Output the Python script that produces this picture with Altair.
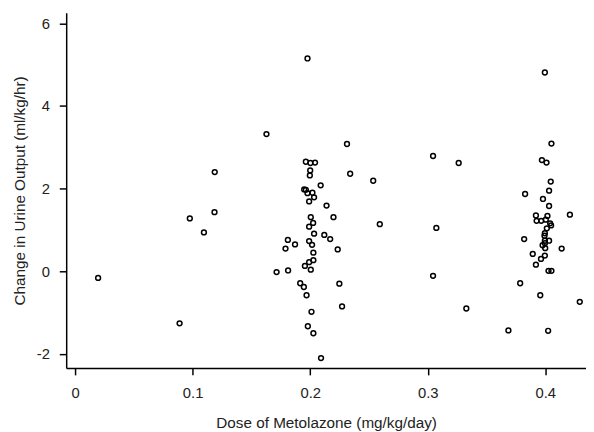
import altair as alt
import pandas as pd

dose = [
    0.0196, 0.0889, 0.0976, 0.1096, 0.1186, 0.1188, 0.1628, 0.1714, 0.1812, 0.179, 0.181, 0.1871,
    0.1977, 0.2313, 0.1963, 0.2002, 0.2041, 0.2, 0.1997, 0.234, 0.2536, 0.2089, 0.1949, 0.1963,
    0.1977, 0.2019, 0.2033, 0.1991, 0.2139, 0.2005, 0.2198, 0.2025, 0.1991, 0.2592, 0.2033, 0.212,
    0.217, 0.1991, 0.2016, 0.2234, 0.2027, 0.2027, 0.1991, 0.1955, 0.2005, 0.1915, 0.1946, 0.1969,
    0.2248, 0.2271, 0.2011, 0.198, 0.2027, 0.2092,
    0.3045, 0.3263, 0.3073, 0.3045, 0.3328,
    0.3996, 0.4052, 0.3971, 0.401, 0.4046, 0.3828, 0.4032, 0.398, 0.4032, 0.4209, 0.392, 0.4018,
    0.3926, 0.3965, 0.4004, 0.4041, 0.4049, 0.4013, 0.3996, 0.3993, 0.4032, 0.3996, 0.382, 0.3996,
    0.3977, 0.3999, 0.4139, 0.3893, 0.3996, 0.3963, 0.392, 0.4027, 0.4052, 0.3786, 0.3957, 0.4293,
    0.3686, 0.4024,
]
change = [
    -0.16, -1.26, 1.28, 0.94, 1.43, 2.40, 3.32, -0.02, 0.02, 0.55, 0.76, 0.65,
    5.15, 3.08, 2.65, 2.62, 2.63, 2.44, 2.32, 2.36, 2.19, 2.08, 1.98, 1.97,
    1.89, 1.90, 1.79, 1.69, 1.59, 1.31, 1.31, 1.17, 1.08, 1.14, 0.91, 0.88,
    0.78, 0.73, 0.64, 0.53, 0.45, 0.27, 0.22, 0.13, 0.04, -0.29, -0.38, -0.58,
    -0.30, -0.85, -0.98, -1.33, -1.50, -2.10,
    2.79, 2.62, 1.05, -0.11, -0.90,
    4.81, 3.09, 2.69, 2.63, 2.17, 1.87, 1.95, 1.75, 1.58, 1.37, 1.35, 1.34,
    1.22, 1.22, 1.25, 1.16, 1.11, 1.04, 0.92, 0.86, 0.74, 0.74, 0.78, 0.68,
    0.63, 0.56, 0.55, 0.42, 0.38, 0.30, 0.16, 0.01, 0.01, -0.29, -0.58, -0.74,
    -1.43, -1.44,
]
x_ticks = [0, 0.1, 0.2, 0.3, 0.4]
y_ticks = [-2, 0, 2, 4, 6]

df = pd.DataFrame({"dose": dose, "change": change})

FONT = "Liberation Sans"

chart = alt.Chart(df).mark_point(
    shape="circle", filled=False, color="black", size=24, strokeWidth=1.5, opacity=1
).encode(
    x=alt.X("dose:Q",
            scale=alt.Scale(domain=[-0.00755, 0.4346], nice=False, zero=False),
            axis=alt.Axis(values=x_ticks, format=".1~f", title="Dose of Metolazone (mg/kg/day)",
                          grid=False, tickSize=7, labelPadding=11, titlePadding=15)),
    y=alt.Y("change:Q",
            scale=alt.Scale(domain=[-2.339, 6.253], nice=False, zero=False),
            axis=alt.Axis(values=y_ticks, labelExpr="'' + datum.value",
                          title="Change in Urine Output (ml/kg/hr)",
                          grid=False, tickSize=7, labelPadding=10, titlePadding=9)),
).properties(
    width=527, height=360,
    autosize=alt.AutoSizeParams(type="none"),
    padding={"left": 59, "top": 2, "right": 0, "bottom": 62},
).configure_view(stroke=None).configure_axis(
    domainColor="black", domainWidth=1.5, tickColor="black", tickWidth=1.5,
    labelFont=FONT, labelFontSize=15, labelColor="#222",
    titleFont=FONT, titleFontSize=15.5, titleFontWeight="normal", titleColor="#222",
)

chart.save("out.html", embed_options={"renderer": "svg", "actions": False})
